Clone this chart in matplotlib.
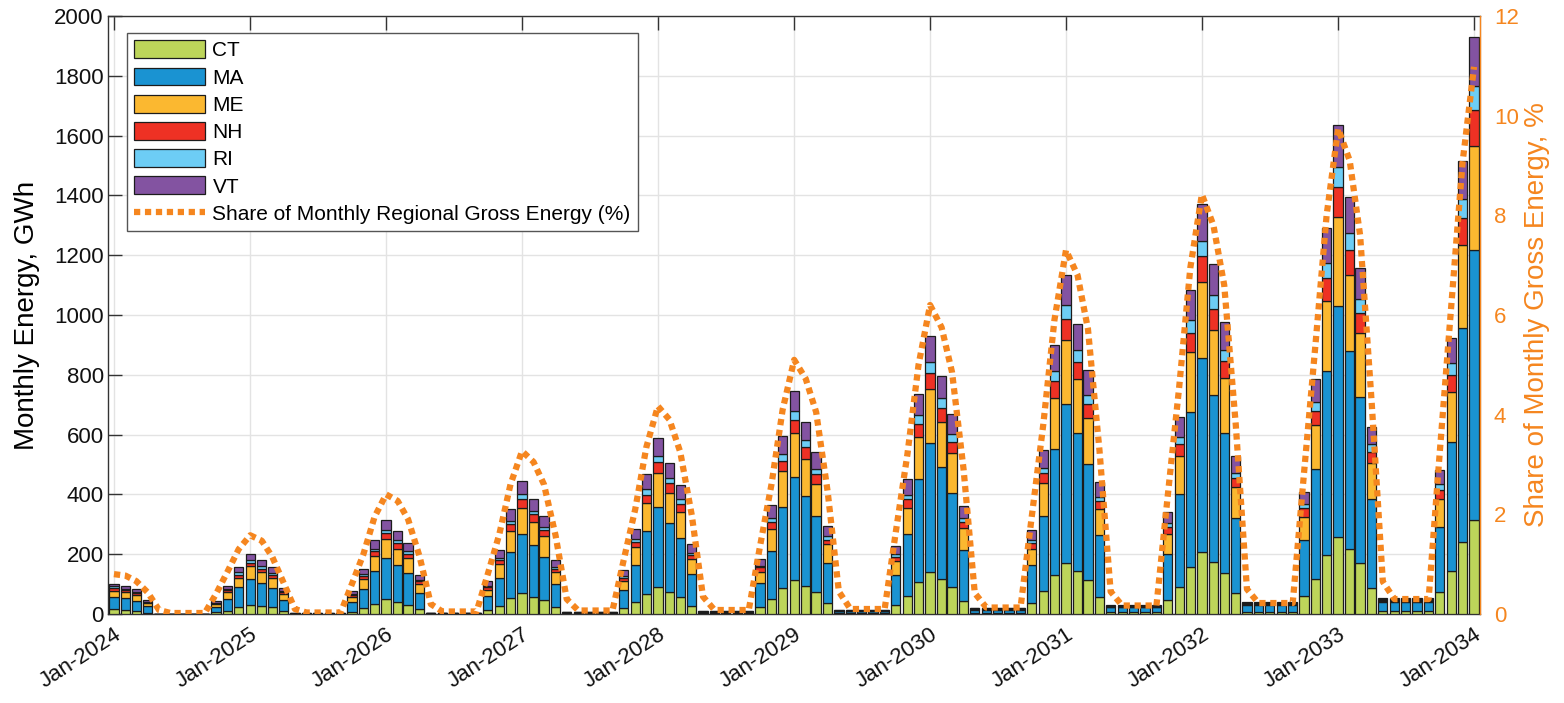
import numpy as np
import pandas as pd
import matplotlib
matplotlib.use("Agg")
import matplotlib.pyplot as plt
from matplotlib.patches import Patch
from matplotlib.lines import Line2D

plt.rcParams['font.family'] = ['Liberation Sans', 'DejaVu Sans']

# ---------------- data (GWh, monthly, Jan-2024 .. Jan-2034) ----------------
months = pd.date_range('2024-01-01', periods=121, freq='MS')

CT = [17, 12, 10, 5, 0, 0, 0, 0, 0, 6, 10, 22,            # 2024
      31, 26, 22, 9, 0.4, 0.4, 0.4, 0.4, 0.4, 6, 19, 34,   # 2025
      50, 40, 31, 17, 0.8, 0.8, 0.8, 0.8, 0.8, 12, 28, 52, # 2026
      69, 58, 46, 22, 1.2, 1.2, 1.2, 1.2, 1.2, 19, 39, 68, # 2027
      89, 73, 58, 28, 1.8, 1.8, 1.8, 1.8, 1.8, 24, 49, 86, # 2028
      114, 95, 72, 36, 2.6, 2.6, 2.6, 2.6, 2.6, 30, 61, 106,  # 2029
      139, 116, 91, 45, 4, 4, 4, 4, 4, 38, 76, 130,         # 2030
      171, 145, 114, 56, 6, 6, 6, 6, 6, 47, 91, 158,        # 2031
      208, 175, 138, 69, 8, 8, 8, 8, 8, 61, 116, 197,       # 2032
      257, 217, 171, 87, 11, 11, 11, 11, 11, 75, 143, 240,  # 2033
      314]                                                  # 2034
MA = [41, 40, 34, 21, 0, 0, 0, 0, 0, 17, 40, 67,
      86, 77, 65, 37, 1.0, 1.0, 1.0, 1.0, 1.0, 33, 64, 109,
      136, 123, 105, 54, 2.2, 2.2, 2.2, 2.2, 2.2, 47, 92, 155,
      198, 172, 146, 79, 3.2, 3.2, 3.2, 3.2, 3.2, 61, 124, 210,
      268, 233, 196, 105, 5, 5, 5, 5, 5, 81, 161, 273,
      345, 299, 255, 133, 7.2, 7.2, 7.2, 7.2, 7.2, 100, 205, 344,
      433, 376, 315, 169, 11, 11, 11, 11, 11, 126, 252, 423,
      533, 461, 387, 208, 16, 16, 16, 16, 16, 153, 309, 516,
      648, 559, 469, 251, 21, 21, 21, 21, 21, 186, 368, 615,
      773, 662, 556, 299, 28, 28, 28, 28, 28, 217, 431, 718,
      903]
ME = [20, 20, 19, 10, 0, 0, 0, 0, 0, 9, 23, 33,
      42, 37, 33, 21, 0.2, 0.2, 0.2, 0.2, 0.2, 18, 34, 51,
      65, 56, 50, 30, 0.4, 0.4, 0.4, 0.4, 0.4, 22, 47, 72,
      89, 79, 69, 39, 0.5, 0.5, 0.5, 0.5, 0.5, 31, 61, 94,
      115, 100, 88, 51, 0.8, 0.8, 0.8, 0.8, 0.8, 36, 75, 118,
      145, 124, 108, 64, 1.1, 1.1, 1.1, 1.1, 1.1, 48, 89, 142,
      179, 151, 131, 72, 1.7, 1.7, 1.7, 1.7, 1.7, 55, 109, 170,
      214, 180, 155, 87, 2.4, 2.4, 2.4, 2.4, 2.4, 67, 128, 201,
      254, 215, 183, 105, 3, 3, 3, 3, 3, 78, 148, 236,
      299, 255, 213, 120, 4, 4, 4, 4, 4, 91, 170, 276,
      348]
NH = [9, 7, 7, 3, 0, 0, 0, 0, 0, 4, 6, 9,
      11, 10, 9, 5, 0.1, 0.1, 0.1, 0.1, 0.1, 5, 9, 17,
      19, 18, 16, 8, 0.2, 0.2, 0.2, 0.2, 0.2, 8, 12, 21,
      27, 24, 20, 10, 0.3, 0.3, 0.3, 0.3, 0.3, 9, 17, 27,
      37, 31, 25, 13, 0.4, 0.4, 0.4, 0.4, 0.4, 15, 23, 34,
      44, 39, 32, 16, 0.6, 0.6, 0.6, 0.6, 0.6, 14, 28, 44,
      55, 47, 39, 22, 1, 1, 1, 1, 1, 17, 33, 55,
      70, 58, 46, 27, 1.5, 1.5, 1.5, 1.5, 1.5, 23, 39, 66,
      86, 71, 55, 30, 2, 2, 2, 2, 2, 28, 47, 75,
      100, 83, 66, 37, 3, 3, 3, 3, 3, 33, 57, 89,
      119]
RI = [5, 4, 4, 2, 0, 0, 0, 0, 0, 2, 4, 8,
      9, 9, 7, 4, 0.1, 0.1, 0.1, 0.1, 0.1, 4, 7, 7,
      11, 11, 9, 5, 0.2, 0.2, 0.2, 0.2, 0.2, 5, 9, 12,
      17, 13, 11, 8, 0.3, 0.3, 0.3, 0.3, 0.3, 6, 10, 20,
      21, 18, 16, 8, 0.4, 0.4, 0.4, 0.4, 0.4, 5, 12, 24,
      31, 24, 19, 12, 0.6, 0.6, 0.6, 0.6, 0.6, 8, 16, 28,
      37, 33, 25, 12, 1, 1, 1, 1, 1, 11, 19, 35,
      45, 38, 31, 12, 1.5, 1.5, 1.5, 1.5, 1.5, 15, 25, 41,
      53, 47, 37, 18, 2, 2, 2, 2, 2, 15, 31, 52,
      67, 58, 49, 25, 2.5, 2.5, 2.5, 2.5, 2.5, 19, 37, 64,
      82]
VT = [9, 9, 10, 6, 0, 0, 0, 0, 0, 6, 11, 18,
      22, 20, 20, 12, 0.2, 0.2, 0.2, 0.2, 0.2, 10, 18, 31,
      33, 28, 28, 15, 0.3, 0.3, 0.3, 0.3, 0.3, 15, 26, 39,
      44, 38, 37, 23, 0.5, 0.5, 0.5, 0.5, 0.5, 20, 33, 48,
      57, 51, 48, 29, 0.6, 0.6, 0.6, 0.6, 0.6, 23, 43, 60,
      67, 62, 56, 33, 0.9, 0.9, 0.9, 0.9, 0.9, 28, 51, 73,
      86, 72, 69, 42, 1.3, 1.3, 1.3, 1.3, 1.3, 34, 59, 85,
      102, 89, 82, 52, 2, 2, 2, 2, 2, 35, 67, 103,
      121, 103, 95, 55, 2.5, 2.5, 2.5, 2.5, 2.5, 41, 76, 115,
      139, 120, 103, 59, 3.5, 3.5, 3.5, 3.5, 3.5, 48, 84, 129,
      163]

# Share of monthly regional gross energy (%)
share = [0.80, 0.77, 0.66, 0.43, 0.08, 0.02, 0.02, 0.02, 0.02, 0.40, 0.85, 1.30,
         1.58, 1.47, 1.15, 0.62, 0.10, 0.03, 0.03, 0.03, 0.03, 0.60, 1.20, 1.95,
         2.40, 2.27, 1.90, 1.15, 0.20, 0.05, 0.05, 0.05, 0.05, 0.80, 1.60, 2.60,
         3.27, 3.05, 2.60, 1.58, 0.30, 0.07, 0.07, 0.07, 0.07, 1.08, 2.10, 3.35,
         4.17, 3.90, 3.25, 1.98, 0.35, 0.08, 0.08, 0.08, 0.08, 1.35, 2.60, 4.10,
         5.10, 4.72, 4.05, 2.45, 0.45, 0.10, 0.10, 0.10, 0.10, 1.65, 3.20, 5.00,
         6.20, 5.75, 4.85, 2.90, 0.42, 0.13, 0.13, 0.13, 0.13, 1.95, 3.80, 5.90,
         7.30, 6.80, 5.72, 3.28, 0.45, 0.17, 0.17, 0.17, 0.17, 2.35, 4.55, 6.95,
         8.42, 7.80, 6.60, 3.80, 0.50, 0.22, 0.22, 0.22, 0.22, 2.80, 5.40, 8.00,
         9.74, 9.10, 7.60, 4.25, 0.65, 0.30, 0.30, 0.30, 0.30, 3.25, 6.20, 9.05,
         10.98]

series_names = ['CT', 'MA', 'ME', 'NH', 'RI', 'VT']
series_colors = ['#BDD55A', '#1A93D2', '#FBB830', '#EE3124', '#6DCDF5', '#8353A1']
line_label = 'Share of Monthly Regional Gross Energy (%)'
xtick_labels = ['Jan-2024', 'Jan-2025', 'Jan-2026', 'Jan-2027', 'Jan-2028', 'Jan-2029',
                'Jan-2030', 'Jan-2031', 'Jan-2032', 'Jan-2033', 'Jan-2034']
yticks_left = [0, 200, 400, 600, 800, 1000, 1200, 1400, 1600, 1800, 2000]
yticks_right = [0, 2, 4, 6, 8, 10, 12]

ORANGE = '#F5861F'
AXC = '#333333'

# ---------------- figure ----------------
W, H = 1564, 703
fig = plt.figure(figsize=(W / 100, H / 100), dpi=100)
ax = fig.add_axes([108 / W, 1 - 614 / H, 1372 / W, 598 / H])

bottom = np.zeros(len(months))
for name, vals, col in zip(series_names, [CT, MA, ME, NH, RI, VT], series_colors):
    v = np.array(vals, dtype=float)
    ax.bar(months, v, width=25, bottom=bottom, color=col, edgecolor='#1c1c1c',
           linewidth=0.9, zorder=3, label=name)
    bottom += v

ax.set_xlim(pd.Timestamp('2023-12-16'), pd.Timestamp('2034-01-17'))
ax.set_ylim(0, 2000)
ax.set_yticks(yticks_left)
ax.set_yticklabels([str(t) for t in yticks_left], fontsize=16)
xt = pd.date_range('2024-01-01', '2034-01-01', freq='YS')
ax.set_xticks(xt)
ax.set_xticklabels(xtick_labels, rotation=33, ha='right', rotation_mode='anchor', fontsize=16)
ax.set_ylabel('Monthly Energy, GWh', fontsize=20, labelpad=10)
ax.grid(True, color='#E3E3E3', linewidth=1.0)
ax.set_axisbelow(True)
ax.tick_params(axis='x', direction='in', length=10, top=True, width=1, colors=AXC, pad=7)
ax.tick_params(axis='y', direction='in', length=10, width=1, colors=AXC, pad=3)
ax.tick_params(axis='both', labelcolor='#111111')
for s in ['left', 'bottom', 'top']:
    ax.spines[s].set_color(AXC)
    ax.spines[s].set_linewidth(1.0)

ax2 = ax.twinx()
ax2.plot(months, share, color=ORANGE, linewidth=4.5, linestyle=(0, (1.0, 0.75)),
         dash_capstyle='butt', zorder=4, label=line_label)
ax2.set_ylim(0, 12)
ax2.set_yticks(yticks_right)
ax2.set_yticklabels([str(t) for t in yticks_right], fontsize=16)
ax2.tick_params(axis='y', direction='in', length=0, width=1, colors=ORANGE, pad=10)
ax2.set_ylabel('Share of Monthly Gross Energy, %', fontsize=20, color=ORANGE, labelpad=4)
ax2.spines['right'].set_color(ORANGE)
ax2.spines['right'].set_linewidth(1.0)
for s in ['left', 'bottom', 'top']:
    ax2.spines[s].set_visible(False)

handles = [Patch(facecolor=c, edgecolor='#1c1c1c', linewidth=0.9) for c in series_colors]
handles.append(Line2D([0], [0], color=ORANGE, linewidth=4.5, linestyle=(0, (1.0, 0.75)),
                      dash_capstyle='butt'))
labels = series_names + [line_label]
leg = ax2.legend(handles, labels, loc='upper left', bbox_to_anchor=(19 / 1372, 1 - 17 / 598),
                 borderaxespad=0, fontsize=15, frameon=True, fancybox=False,
                 edgecolor='#555555', framealpha=1, handlelength=3.4, handleheight=0.95,
                 labelspacing=0.34, handletextpad=0.35, borderpad=0.35)
leg.get_frame().set_linewidth(1.0)
leg.set_zorder(10)

fig.savefig('out.png', dpi=100)
